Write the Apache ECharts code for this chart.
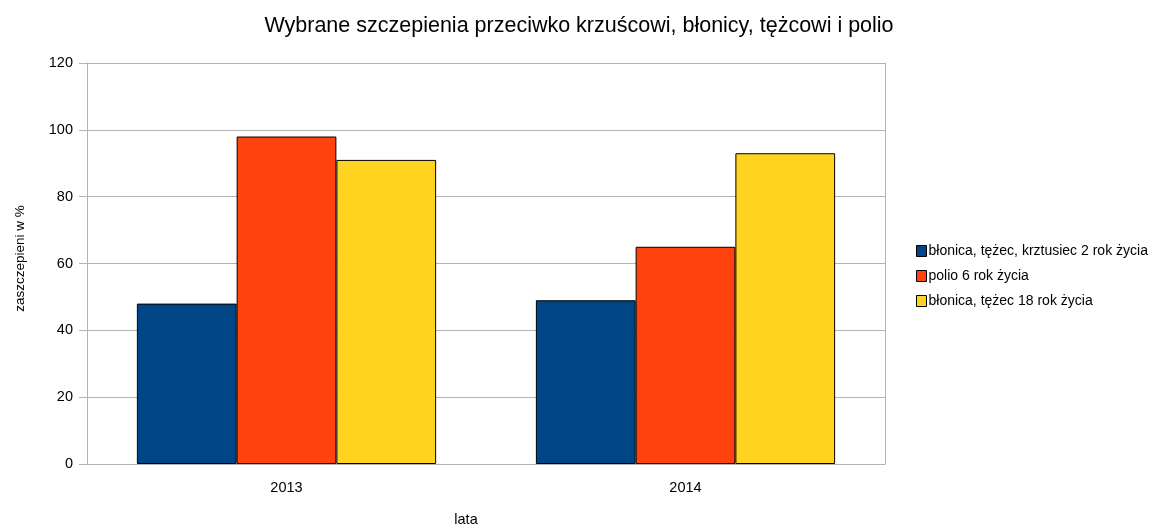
<!DOCTYPE html>
<html>
<head>
<meta charset="utf-8">
<script src="https://cdn.jsdelivr.net/npm/echarts@6/dist/echarts.min.js"></script>
<style>
  html, body { margin: 0; padding: 0; background: #fff; }
  #chart { width: 1158px; height: 528px; }
</style>
</head>
<body>
<div id="chart"></div>
<script>
const years = ['2013', '2014']
const seriesNames = [
  'błonica, tężec, krztusiec 2 rok życia',
  'polio 6 rok życia',
  'błonica, tężec 18 rok życia'
]
const dtp2 = [48, 49]
const polio6 = [98, 65]
const dt18 = [91, 93]
const colors = ['#004586', '#ff420e', '#ffd320']

const font = 'Liberation Sans, Arial, sans-serif'
const gridColor = '#b3b3b3'

const chart = echarts.init(document.getElementById('chart'))

const makeSeries = (name, data, color) => ({
  name,
  type: 'bar',
  data,
  barGap: '0%',
  barCategoryGap: '25%',
  itemStyle: { color, borderColor: '#000', borderWidth: 1 },
  emphasis: { disabled: true }
})

chart.setOption({
  animation: false,
  title: {
    text: 'Wybrane szczepienia przeciwko krzuścowi, błonicy, tężcowi i polio',
    left: 'center',
    top: 10,
    padding: [5, 5, 5, 17],
    textStyle: { fontFamily: font, fontSize: 21.5, fontWeight: 'normal', color: '#000' }
  },
  legend: {
    orient: 'vertical',
    left: 911,
    top: 238,
    itemWidth: 10,
    itemHeight: 11,
    itemGap: 9,
    icon: 'rect',
    textStyle: { fontFamily: font, fontSize: 14, lineHeight: 16, color: '#000', padding: [0, 0, 0, -3] },
    itemStyle: { borderColor: '#000', borderWidth: 1 },
    data: seriesNames
  },
  grid: { left: 87, right: 273, top: 63, bottom: 64, containLabel: false, outerBoundsMode: 'none' },
  xAxis: {
    type: 'category',
    data: years,
    name: 'lata',
    nameLocation: 'middle',
    nameGap: 48,
    nameTextStyle: { fontFamily: font, fontSize: 14.5, color: '#000', padding: [0, 40, 0, 0] },
    axisLine: { lineStyle: { color: gridColor, width: 1 } },
    axisTick: { alignWithLabel: true, length: 6, lineStyle: { color: gridColor } },
    axisLabel: { fontFamily: font, fontSize: 14.5, color: '#000', margin: 16 },
    splitLine: { show: false }
  },
  yAxis: [
    {
      type: 'value',
      min: 0,
      max: 120,
      interval: 20,
      name: 'zaszczepieni w %',
      nameLocation: 'middle',
      nameGap: 60,
      nameRotate: 90,
      nameTextStyle: { fontFamily: font, fontSize: 13.5, color: '#000', padding: [0, 0, 0, 10] },
      axisLine: { show: true, lineStyle: { color: gridColor } },
      axisTick: { show: true, length: 8, lineStyle: { color: gridColor } },
      axisLabel: { fontFamily: font, fontSize: 14.5, color: '#000', margin: 14 },
      splitLine: { show: true, lineStyle: { color: gridColor, width: 1 } }
    },
    {
      // only draws the right frame of the plot area
      type: 'value',
      position: 'right',
      min: 0,
      max: 120,
      interval: 20,
      axisLine: { show: true, lineStyle: { color: gridColor } },
      axisTick: { show: false },
      axisLabel: { show: false },
      splitLine: { show: false }
    }
  ],
  series: [
    makeSeries(seriesNames[0], dtp2, colors[0]),
    makeSeries(seriesNames[1], polio6, colors[1]),
    makeSeries(seriesNames[2], dt18, colors[2])
  ]
})
</script>
</body>
</html>
